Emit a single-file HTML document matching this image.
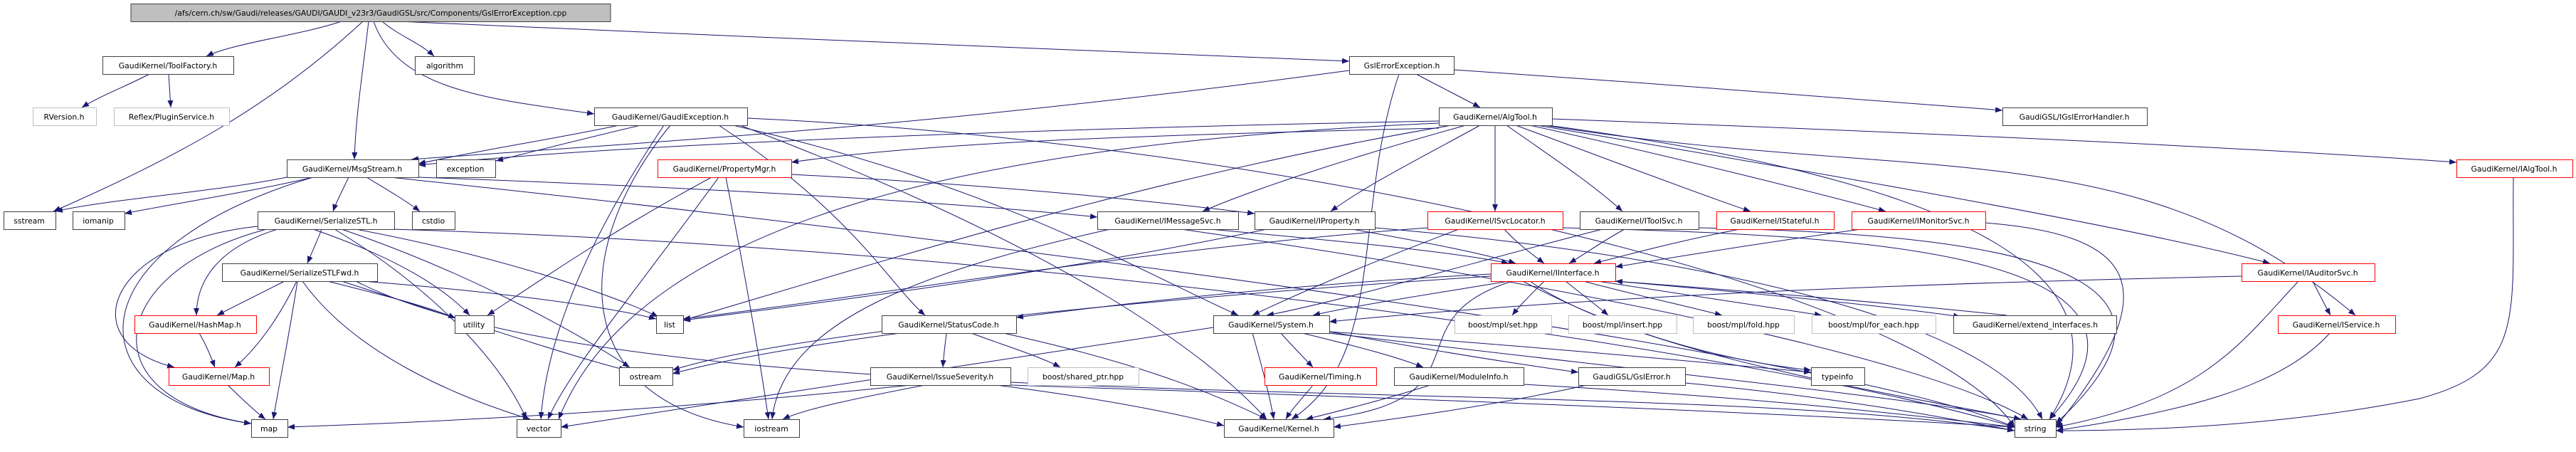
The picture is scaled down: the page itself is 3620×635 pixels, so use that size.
<!DOCTYPE html>
<html><head><meta charset="utf-8"><style>
html,body{margin:0;padding:0;background:#fff;}
svg{display:block;}
text{font-family:"DejaVu Sans","Liberation Sans",sans-serif;font-size:10.8px;fill:#000;text-anchor:middle;}
.n{fill:#fff;stroke:#404040;stroke-width:1;}
.r{fill:#fff;stroke:#ff0000;stroke-width:1;}
.g{fill:#fff;stroke:#bfbfbf;stroke-width:1;}
.e{fill:none;stroke:#191970;stroke-width:1;marker-end:url(#a);}
</style></head><body>
<svg width="3620" height="635" viewBox="0 0 3620 635" xmlns="http://www.w3.org/2000/svg">
<defs><marker id="a" markerUnits="userSpaceOnUse" markerWidth="10" markerHeight="8" refX="10" refY="4" orient="auto"><path d="M0,0 L10,4 L0,8 z" fill="#191970"/></marker></defs>
<g>
<path class="e" d="M480,30 C420,50 330,60 290,79"/>
<path class="e" d="M510,30 C380,150 250,220 75,297"/>
<path class="e" d="M518,30 C510,100 500,160 498,224"/>
<path class="e" d="M537,30 C560,50 590,60 610,79"/>
<path class="e" d="M525,30 C560,130 700,140 835,160"/>
<path class="e" d="M560,30 C1000,50 1500,70 1896,86"/>
<path class="e" d="M210,104 C180,120 140,135 115,151"/>
<path class="e" d="M237,104 C238,120 239,135 240,151"/>
<path class="e" d="M1990,104 C2020,120 2050,135 2080,151"/>
<path class="e" d="M2043,98 C2300,115 2550,135 2814,155"/>
<path class="e" d="M1966,104 C1900,300 1950,500 1815,589"/>
<path class="e" d="M1896,99 C1300,180 900,200 578,224"/>
<path class="e" d="M900,176 C820,195 760,210 697,226"/>
<path class="e" d="M870,176 C780,195 680,210 588,230"/>
<path class="e" d="M933,176 C850,300 770,450 760,589"/>
<path class="e" d="M942,176 C800,350 800,560 1045,600"/>
<path class="e" d="M1010,176 C1200,300 1250,400 1300,443"/>
<path class="e" d="M1030,176 C1400,260 1600,380 1740,443"/>
<path class="e" d="M1040,176 C1500,350 1700,500 1780,589"/>
<path class="e" d="M1050,166 C1800,200 2700,400 2831,600"/>
<path class="e" d="M2022,170 C1500,180 900,200 588,232"/>
<path class="e" d="M2040,176 C1600,250 1200,380 960,450"/>
<path class="e" d="M2022,173 C1400,200 900,300 785,589"/>
<path class="e" d="M2022,180 C1600,190 1300,200 1112,228"/>
<path class="e" d="M2060,176 C1900,220 1750,270 1690,297"/>
<path class="e" d="M2080,176 C2000,220 1920,260 1870,297"/>
<path class="e" d="M2101,176 L2101,297"/>
<path class="e" d="M2117,176 C2180,220 2240,260 2280,297"/>
<path class="e" d="M2130,176 C2250,220 2380,270 2460,297"/>
<path class="e" d="M2150,176 C2350,220 2550,270 2650,297"/>
<path class="e" d="M2160,176 C2600,250 3000,320 3190,370"/>
<path class="e" d="M2181,167 C2800,190 3200,210 3452,228"/>
<path class="e" d="M2170,176 C2700,260 3000,180 3310,443"/>
<path class="e" d="M2175,176 C2800,260 3000,400 2880,589"/>
<path class="e" d="M403,249 C300,270 150,280 78,297"/>
<path class="e" d="M440,249 C350,270 250,285 175,300"/>
<path class="e" d="M490,249 C480,270 472,285 468,297"/>
<path class="e" d="M515,249 C550,270 575,285 590,297"/>
<path class="e" d="M440,249 C100,350 100,560 353,595"/>
<path class="e" d="M588,249 C900,260 1300,280 1542,305"/>
<path class="e" d="M548,249 C1500,350 2600,500 2831,600"/>
<path class="e" d="M1000,249 C850,330 750,400 685,443"/>
<path class="e" d="M1010,249 C900,400 800,520 770,589"/>
<path class="e" d="M1020,249 C1050,400 1070,520 1080,589"/>
<path class="e" d="M1112,245 C1400,260 1600,280 1763,300"/>
<path class="e" d="M452,322 C445,340 438,355 432,370"/>
<path class="e" d="M390,322 C300,350 276,400 276,443"/>
<path class="e" d="M362,318 C150,340 100,480 245,516"/>
<path class="e" d="M375,322 C150,380 120,560 353,595"/>
<path class="e" d="M470,322 C600,400 700,500 740,589"/>
<path class="e" d="M500,322 C700,360 850,410 925,445"/>
<path class="e" d="M440,322 C550,360 620,400 660,443"/>
<path class="e" d="M480,322 C650,380 800,460 885,516"/>
<path class="e" d="M550,322 C1500,350 2500,500 2831,600"/>
<path class="e" d="M400,395 C360,415 330,430 305,443"/>
<path class="e" d="M417,395 C390,450 360,490 330,516"/>
<path class="e" d="M418,395 C405,480 392,540 384,589"/>
<path class="e" d="M425,395 C500,500 650,560 745,589"/>
<path class="e" d="M460,395 C540,415 600,430 640,447"/>
<path class="e" d="M510,395 C700,410 850,430 922,448"/>
<path class="e" d="M480,395 C650,450 800,500 880,520"/>
<path class="e" d="M500,395 C900,600 2300,520 2831,605"/>
<path class="e" d="M280,468 C290,485 296,500 302,516"/>
<path class="e" d="M320,541 C340,560 355,575 373,589"/>
<path class="e" d="M1700,322 C1900,340 2050,355 2120,370"/>
<path class="e" d="M1560,322 C1300,380 1100,450 1085,589"/>
<path class="e" d="M1660,322 C2200,400 2700,500 2850,589"/>
<path class="e" d="M1900,322 C2000,340 2080,355 2130,370"/>
<path class="e" d="M1932,320 C2400,360 2800,450 2870,589"/>
<path class="e" d="M1780,322 C1500,380 1200,420 960,450"/>
<path class="e" d="M2114,322 C2130,340 2150,355 2170,370"/>
<path class="e" d="M2006,320 C1600,350 1200,420 960,448"/>
<path class="e" d="M2196,320 C2600,330 3100,350 2880,589"/>
<path class="e" d="M2050,322 C1950,360 1850,400 1760,443"/>
<path class="e" d="M2283,322 C2250,340 2230,355 2205,370"/>
<path class="e" d="M2252,322 C2100,360 1900,420 1780,443"/>
<path class="e" d="M2387,320 C2900,330 3100,400 2889,595"/>
<path class="e" d="M2445,322 C2350,340 2280,360 2240,370"/>
<path class="e" d="M2615,322 C2450,345 2330,365 2270,375"/>
<path class="e" d="M2790,313 C3000,330 3050,400 2889,600"/>
<path class="e" d="M2095,385 C1800,400 1550,430 1428,446"/>
<path class="e" d="M2120,395 C2000,415 1900,430 1845,443"/>
<path class="e" d="M2170,395 C2150,415 2135,430 2125,443"/>
<path class="e" d="M2200,395 C2225,415 2245,430 2260,443"/>
<path class="e" d="M2225,395 C2300,415 2370,430 2420,443"/>
<path class="e" d="M2245,395 C2380,415 2480,430 2560,443"/>
<path class="e" d="M2270,395 C2500,415 2650,430 2755,445"/>
<path class="e" d="M2820,443 C2600,420 2400,405 2270,395"/>
<path class="e" d="M2125,395 C1950,450 2100,560 1860,589"/>
<path class="e" d="M2095,388 C1600,420 1100,470 945,520"/>
<path class="e" d="M2150,395 C2300,500 2700,560 2840,589"/>
<path class="e" d="M2140,395 C2300,480 2450,510 2545,520"/>
<path class="e" d="M3250,395 C3260,415 3268,430 3275,443"/>
<path class="e" d="M3230,395 C3150,480 3100,560 2889,600"/>
<path class="e" d="M3150,388 C2600,400 2200,420 1868,452"/>
<path class="e" d="M3274,468 C3200,550 3050,580 2889,605"/>
<path class="e" d="M3532,249 C3530,450 3550,520 3400,560 C3200,600 3000,605 2889,605"/>
<path class="e" d="M1330,468 C1328,485 1326,500 1325,516"/>
<path class="e" d="M1365,468 C1410,485 1460,500 1490,516"/>
<path class="e" d="M1265,468 C1100,490 1000,510 945,525"/>
<path class="e" d="M1410,468 C1600,510 1700,550 1780,589"/>
<path class="e" d="M1280,541 C1000,570 700,590 404,600"/>
<path class="e" d="M1300,541 C1200,560 1130,575 1100,589"/>
<path class="e" d="M1400,541 C1550,560 1650,580 1720,598"/>
<path class="e" d="M1420,541 C2000,560 2500,580 2831,600"/>
<path class="e" d="M1800,468 C1815,485 1830,500 1845,516"/>
<path class="e" d="M1830,468 C1900,485 1960,500 2000,516"/>
<path class="e" d="M1868,466 C2000,490 2120,510 2218,523"/>
<path class="e" d="M1868,466 C2200,490 2400,510 2545,523"/>
<path class="e" d="M1868,468 C2300,520 2700,560 2840,589"/>
<path class="e" d="M1705,460 C1300,520 1000,570 788,600"/>
<path class="e" d="M1760,468 C1775,520 1785,560 1790,589"/>
<path class="e" d="M1845,541 C1830,560 1815,575 1807,589"/>
<path class="e" d="M2010,541 C1950,560 1880,578 1835,589"/>
<path class="e" d="M2141,540 C2500,560 2700,585 2831,600"/>
<path class="e" d="M2230,541 C2100,570 1950,590 1874,600"/>
<path class="e" d="M2368,538 C2600,560 2750,590 2831,605"/>
</g>
<g>
<rect x="184" y="5.5" width="674" height="25" fill="#bfbfbf" stroke="#404040"/><text x="521" y="22">/afs/cern.ch/sw/Gaudi/releases/GAUDI/GAUDI_v23r3/GaudiGSL/src/Components/GslErrorException.cpp</text>
<rect class="n" x="144.5" y="79.5" width="184" height="25"/><text x="236" y="96">GaudiKernel/ToolFactory.h</text>
<rect class="n" x="583.5" y="79.5" width="83" height="25"/><text x="625" y="96">algorithm</text>
<rect class="n" x="1896.5" y="79.5" width="147" height="25"/><text x="1970" y="96">GslErrorException.h</text>
<rect class="g" x="46.5" y="151.5" width="89" height="25"/><text x="90" y="168">RVersion.h</text>
<rect class="g" x="160.5" y="151.5" width="162" height="25"/><text x="241" y="168">Reflex/PluginService.h</text>
<rect class="n" x="835.5" y="151.5" width="215" height="25"/><text x="942" y="168">GaudiKernel/GaudiException.h</text>
<rect class="n" x="2022.5" y="151.5" width="159" height="25"/><text x="2101" y="168">GaudiKernel/AlgTool.h</text>
<rect class="n" x="2814.5" y="151.5" width="203" height="25"/><text x="2915" y="168">GaudiGSL/IGslErrorHandler.h</text>
<rect class="n" x="403.5" y="224.5" width="185" height="25"/><text x="495" y="241">GaudiKernel/MsgStream.h</text>
<rect class="n" x="613.5" y="224.5" width="83" height="25"/><text x="654" y="241">exception</text>
<rect class="r" x="924.5" y="224.5" width="188" height="25"/><text x="1018" y="241">GaudiKernel/PropertyMgr.h</text>
<rect class="r" x="3452.5" y="224.5" width="163" height="25"/><text x="3533" y="241">GaudiKernel/IAlgTool.h</text>
<rect class="n" x="5.5" y="297.5" width="73" height="25"/><text x="41" y="314">sstream</text>
<rect class="n" x="102.5" y="297.5" width="73" height="25"/><text x="138" y="314">iomanip</text>
<rect class="n" x="362.5" y="297.5" width="192" height="25"/><text x="458" y="314">GaudiKernel/SerializeSTL.h</text>
<rect class="n" x="579.5" y="297.5" width="60" height="25"/><text x="609" y="314">cstdio</text>
<rect class="n" x="1542.5" y="297.5" width="198" height="25"/><text x="1641" y="314">GaudiKernel/IMessageSvc.h</text>
<rect class="n" x="1763.5" y="297.5" width="169" height="25"/><text x="1847" y="314">GaudiKernel/IProperty.h</text>
<rect class="r" x="2006.5" y="297.5" width="190" height="25"/><text x="2101" y="314">GaudiKernel/ISvcLocator.h</text>
<rect class="n" x="2220.5" y="297.5" width="167" height="25"/><text x="2303" y="314">GaudiKernel/IToolSvc.h</text>
<rect class="r" x="2412.5" y="297.5" width="165" height="25"/><text x="2494" y="314">GaudiKernel/IStateful.h</text>
<rect class="r" x="2602.5" y="297.5" width="188" height="25"/><text x="2696" y="314">GaudiKernel/IMonitorSvc.h</text>
<rect class="n" x="312.5" y="370.5" width="218" height="25"/><text x="421" y="387">GaudiKernel/SerializeSTLFwd.h</text>
<rect class="r" x="2095.5" y="370.5" width="175" height="25"/><text x="2182" y="387">GaudiKernel/IInterface.h</text>
<rect class="r" x="3150.5" y="370.5" width="187" height="25"/><text x="3243" y="387">GaudiKernel/IAuditorSvc.h</text>
<rect class="r" x="189.5" y="443.5" width="171" height="25"/><text x="274" y="460">GaudiKernel/HashMap.h</text>
<rect class="n" x="639.5" y="443.5" width="55" height="25"/><text x="666" y="460">utility</text>
<rect class="n" x="922.5" y="443.5" width="38" height="25"/><text x="941" y="460">list</text>
<rect class="n" x="1239.5" y="443.5" width="189" height="25"/><text x="1333" y="460">GaudiKernel/StatusCode.h</text>
<rect class="n" x="1705.5" y="443.5" width="163" height="25"/><text x="1786" y="460">GaudiKernel/System.h</text>
<rect class="g" x="2044.5" y="443.5" width="136" height="25"/><text x="2112" y="460">boost/mpl/set.hpp</text>
<rect class="g" x="2204.5" y="443.5" width="152" height="25"/><text x="2280" y="460">boost/mpl/insert.hpp</text>
<rect class="g" x="2379.5" y="443.5" width="142" height="25"/><text x="2450" y="460">boost/mpl/fold.hpp</text>
<rect class="g" x="2546.5" y="443.5" width="174" height="25"/><text x="2633" y="460">boost/mpl/for_each.hpp</text>
<rect class="n" x="2745.5" y="443.5" width="229" height="25"/><text x="2860" y="460">GaudiKernel/extend_interfaces.h</text>
<rect class="r" x="3201.5" y="443.5" width="165" height="25"/><text x="3283" y="460">GaudiKernel/IService.h</text>
<rect class="r" x="237.5" y="516.5" width="141" height="25"/><text x="307" y="533">GaudiKernel/Map.h</text>
<rect class="n" x="870.5" y="516.5" width="75" height="25"/><text x="907" y="533">ostream</text>
<rect class="n" x="1223.5" y="516.5" width="197" height="25"/><text x="1321" y="533">GaudiKernel/IssueSeverity.h</text>
<rect class="g" x="1444.5" y="516.5" width="156" height="25"/><text x="1522" y="533">boost/shared_ptr.hpp</text>
<rect class="r" x="1777.5" y="516.5" width="157" height="25"/><text x="1855" y="533">GaudiKernel/Timing.h</text>
<rect class="n" x="1959.5" y="516.5" width="182" height="25"/><text x="2050" y="533">GaudiKernel/ModuleInfo.h</text>
<rect class="n" x="2218.5" y="516.5" width="150" height="25"/><text x="2293" y="533">GaudiGSL/GslError.h</text>
<rect class="n" x="2545.5" y="516.5" width="75" height="25"/><text x="2582" y="533">typeinfo</text>
<rect class="n" x="353.5" y="589.5" width="51" height="25"/><text x="378" y="606">map</text>
<rect class="n" x="726.5" y="589.5" width="62" height="25"/><text x="757" y="606">vector</text>
<rect class="n" x="1045.5" y="589.5" width="78" height="25"/><text x="1084" y="606">iostream</text>
<rect class="n" x="1720.5" y="589.5" width="154" height="25"/><text x="1797" y="606">GaudiKernel/Kernel.h</text>
<rect class="n" x="2831.5" y="589.5" width="58" height="25"/><text x="2860" y="606">string</text>
</g>
</svg>
</body></html>
